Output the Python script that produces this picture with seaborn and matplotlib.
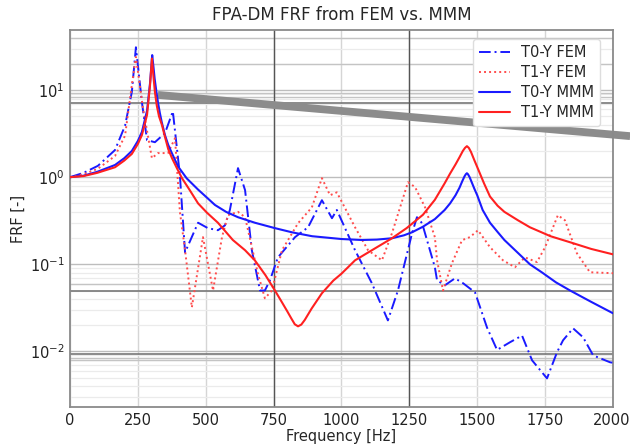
import matplotlib
matplotlib.use("Agg")
import matplotlib.pyplot as plt
import seaborn as sns
import pandas as pd

# ---------------- data ----------------
t0_fem_f = [0, 50, 103, 166, 203, 228, 243, 265, 284, 313, 350, 379, 405, 424, 472, 508, 545,
            571, 589, 619, 645, 670, 700, 718, 737, 766, 829, 877, 928, 965, 983, 1050, 1112,
            1171, 1208, 1260, 1278, 1297, 1344, 1352, 1381, 1418, 1448, 1492, 1536, 1573, 1620,
            1665, 1702, 1757, 1794, 1816, 1853, 1890, 1927, 1989, 2000]
t0_fem_v = [1.0, 1.12, 1.35, 2.05, 3.9, 9.5, 31.0, 7.3, 2.66, 2.52, 3.2, 5.7, 1.05, 0.137, 0.30,
            0.26, 0.246, 0.28, 0.42, 1.27, 0.71, 0.145, 0.05, 0.05, 0.066, 0.12, 0.205, 0.266,
            0.544, 0.338, 0.42, 0.145, 0.0606, 0.0227, 0.05, 0.227, 0.347, 0.296, 0.0925,
            0.0655, 0.0574, 0.069, 0.0606, 0.0475, 0.0188, 0.0104, 0.0127, 0.0152, 0.0079,
            0.0049, 0.0098, 0.0134, 0.0184, 0.0145, 0.009, 0.0075, 0.0074]

t1_fem_f = [0, 50, 103, 166, 203, 228, 243, 269, 302, 324, 361, 387, 405, 424, 449, 490, 527,
            560, 582, 619, 645, 692, 718, 744, 781, 840, 891, 928, 958, 983, 1050, 1098, 1149,
            1186, 1245, 1271, 1308, 1344, 1352, 1374, 1407, 1444, 1473, 1503, 1547, 1595, 1639,
            1676, 1720, 1750, 1797, 1823, 1867, 1915, 2000]
t1_fem_v = [1.0, 1.08, 1.25, 1.75, 3.0, 11.4, 24.0, 6.2, 1.65, 1.89, 1.89, 2.8, 0.40, 0.145,
            0.032, 0.205, 0.05, 0.205, 0.366, 0.40, 0.347, 0.079, 0.0407, 0.05, 0.145, 0.296,
            0.45, 0.974, 0.62, 0.67, 0.266, 0.145, 0.111, 0.227, 0.876, 0.77, 0.45, 0.205,
            0.111, 0.05, 0.103, 0.189, 0.205, 0.246, 0.157, 0.111, 0.0925, 0.12, 0.106, 0.157,
            0.366, 0.32, 0.134, 0.081, 0.079]

t0_mmm_f = [0, 50, 100, 166, 200, 228, 250, 265, 284, 295, 300, 303, 308, 312, 318, 324, 331,
            338, 350, 362, 375, 398, 430, 472, 500, 534, 575, 619, 681, 755, 820, 892, 1000,
            1075, 1130, 1186, 1230, 1260, 1300, 1344, 1380, 1400, 1420, 1435, 1445, 1453, 1458,
            1462, 1466, 1472, 1480, 1490, 1500, 1520, 1547, 1575, 1600, 1650, 1694, 1740, 1790,
            1842, 1920, 2000]
t0_mmm_v = [1.0, 1.04, 1.15, 1.38, 1.65, 2.0, 2.6, 3.3, 5.8, 12.0, 19.0, 25.2, 18.0, 13.5, 9.8,
            7.3, 5.5, 4.3, 3.04, 2.35, 1.9, 1.33, 0.97, 0.72, 0.6, 0.48, 0.4, 0.347, 0.30, 0.26,
            0.232, 0.21, 0.195, 0.19, 0.192, 0.199, 0.215, 0.233, 0.27, 0.33, 0.42, 0.5, 0.62,
            0.76, 0.9, 1.02, 1.08, 1.11, 1.08, 1.0, 0.87, 0.73, 0.62, 0.42, 0.30, 0.235, 0.19,
            0.135, 0.10, 0.08, 0.062, 0.05, 0.037, 0.0274]

t1_mmm_f = [0, 50, 100, 166, 200, 228, 250, 265, 284, 295, 299, 302, 307, 313, 320, 328, 339,
            350, 362, 376, 395, 413, 440, 472, 505, 545, 600, 645, 681, 720, 755, 780, 800, 815,
            828, 840, 852, 865, 890, 928, 970, 1000, 1050, 1120, 1186, 1240, 1300, 1344, 1380,
            1400, 1420, 1435, 1447, 1455, 1462, 1469, 1477, 1490, 1505, 1525, 1547, 1575, 1600,
            1650, 1694, 1770, 1842, 1920, 2000]
t1_mmm_v = [1.0, 1.03, 1.12, 1.3, 1.55, 1.85, 2.4, 3.04, 5.2, 11.4, 17.0, 23.0, 15.0, 9.5, 6.6,
            5.0, 3.96, 2.9, 2.1, 1.65, 1.25, 0.97, 0.72, 0.5, 0.39, 0.30, 0.19, 0.145, 0.111,
            0.075, 0.05, 0.037, 0.029, 0.024, 0.0205, 0.0194, 0.0203, 0.023, 0.031, 0.0465,
            0.065, 0.078, 0.111, 0.15, 0.199, 0.26, 0.37, 0.55, 0.85, 1.1, 1.4, 1.7, 2.0, 2.17,
            2.27, 2.17, 1.95, 1.55, 1.2, 0.85, 0.6, 0.47, 0.40, 0.32, 0.266, 0.21, 0.179, 0.15,
            0.13]

series_names = ["T0-Y FEM", "T1-Y FEM", "T0-Y MMM", "T1-Y MMM"]
xticks = [0, 250, 500, 750, 1000, 1250, 1500, 1750, 2000]

# annotation stroke (grey bar) endpoints in data units
stroke_f = [324, 2063]
stroke_v = [8.8, 2.96]

# emphasised grid lines seen in the reference
dark_h = [7.1, 0.050, 0.0093]
mid_h = [9.2, 8.3, 0.06, 0.0085, 0.008, 20, 40]
dark_v = [750, 1250]

# ---------------- plotting ----------------
sns.set_style("whitegrid")
plt.rcParams['font.family'] = ['DejaVu Sans']

fig = plt.figure(figsize=(6.3, 4.47), dpi=100)
ax = fig.add_axes([0.111, 0.0895, 0.862, 0.8435])

styles = [
    (t0_fem_f, t0_fem_v, "#1a1aff", (0, (6, 2, 1, 2)), 1.4),
    (t1_fem_f, t1_fem_v, "#ff4d4d", (0, (1, 1.6)), 1.4),
    (t0_mmm_f, t0_mmm_v, "#1a1aff", "-", 1.5),
    (t1_mmm_f, t1_mmm_v, "#ff2020", "-", 1.5),
]
for name, (f, v, c, ls, lw) in zip(series_names, styles):
    df = pd.DataFrame({"f": f, "v": v})
    sns.lineplot(data=df, x="f", y="v", ax=ax, color=c, lw=lw, label=name,
                 estimator=None, sort=False, zorder=3)
    ax.lines[-1].set_linestyle(ls)

ax.set_yscale("log")
ax.set_xlim(0, 2000)
ax.set_ylim(0.0023, 49)
ax.set_xticks(xticks)
ax.set_xticklabels([str(t) for t in xticks])

ax.grid(True, which="major", color="#bdbdbd", lw=1.0)
ax.grid(True, which="minor", axis="y", color="#ebebeb", lw=0.9)
ax.grid(True, which="major", axis="x", color="#d5d5d5", lw=1.0)
for y in mid_h:
    ax.axhline(y, color="#c4c4c4", lw=1.0, zorder=1)
for y in dark_h:
    ax.axhline(y, color="#777777", lw=1.2, zorder=1)
for x in dark_v:
    ax.axvline(x, color="#555555", lw=1.0, zorder=1)

ax.tick_params(axis="both", which="both", length=0, labelsize=10.5, pad=4, colors="#222222")
# keep the last x tick label inside the canvas
ax.get_xticklabels()[-1].set_horizontalalignment("right")
ax.get_xticklabels()[-1].set_x(2000)
import matplotlib.transforms as mtrans
lab = ax.get_xticklabels()[-1]
lab.set_transform(lab.get_transform() + mtrans.ScaledTranslation(17 / 100, 0, fig.dpi_scale_trans))

for s in ax.spines.values():
    s.set_color("#8a8a8a")
    s.set_linewidth(1.3)

ax.set_xlabel("Frequency [Hz]", fontsize=10.5, labelpad=1)
ax.set_ylabel("FRF [-]", fontsize=10.5, labelpad=3)
ax.set_title("FPA-DM FRF from FEM vs. MMM", fontsize=12, pad=7)

ax.plot(stroke_f, stroke_v, color="#8c8c8c", lw=5.6, solid_capstyle="butt",
        clip_on=False, zorder=2)

leg = ax.legend(loc="upper right", fontsize=10.5, frameon=True, framealpha=1,
                edgecolor="#dddddd", handlelength=2.1, borderpad=0.4, labelspacing=0.35,
                bbox_to_anchor=(0.99, 0.995))
leg.set_zorder(6)

fig.savefig("out.png", dpi=100)
